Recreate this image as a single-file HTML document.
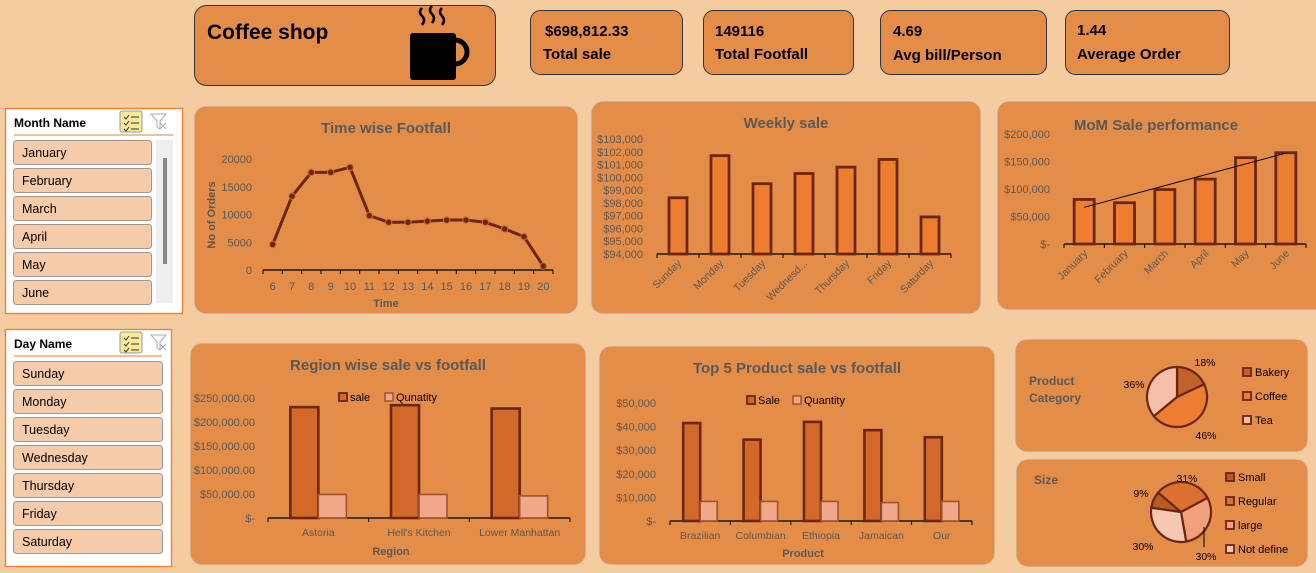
<!DOCTYPE html>
<html><head><meta charset="utf-8"><title>Coffee shop dashboard</title>
<style>
html,body{margin:0;padding:0;background:#F5CBA0;width:1316px;height:573px;overflow:hidden;font-family:"Liberation Sans",sans-serif}
svg{position:absolute;left:0;top:0}
</style></head>
<body>
<svg id="dash" width="1316" height="573" viewBox="0 0 1316 573" xmlns="http://www.w3.org/2000/svg" font-family="Liberation Sans, sans-serif">
<rect x="194.5" y="5.5" width="301" height="80" rx="12" fill="#E48D48" stroke="#2F3440"/>
<text x="207" y="39" font-size="21" font-weight="bold" fill="#000">Coffee shop</text>
<g>
<rect x="410" y="33" width="46" height="47" rx="3" fill="#000"/>
<path d="M455 40 a12 12 0 0 1 0 24" fill="none" stroke="#000" stroke-width="5"/>
<path d="M422 8 q-4 4 0 8 q4 4 0 9 M432 6 q-4 4 0 8 q4 4 0 9 M442 8 q-4 4 0 8 q4 4 0 9" fill="none" stroke="#000" stroke-width="2.5"/>
</g>
<g>
<rect x="530.5" y="10.5" width="152" height="64" rx="10" fill="#E48D48" stroke="#2F3440"/>
<text x="545" y="36" font-size="15" font-weight="bold">$698,812.33</text>
<text x="543" y="59" font-size="15" font-weight="bold">Total sale</text></g>
<g>
<rect x="703.5" y="10.5" width="150" height="64" rx="10" fill="#E48D48" stroke="#2F3440"/>
<text x="715" y="36" font-size="15" font-weight="bold">149116</text>
<text x="715" y="59" font-size="15" font-weight="bold">Total Footfall</text></g>
<g>
<rect x="880.5" y="10.5" width="166" height="64" rx="10" fill="#E48D48" stroke="#2F3440"/>
<text x="893" y="36" font-size="15" font-weight="bold">4.69</text>
<text x="893" y="60" font-size="15" font-weight="bold">Avg bill/Person</text></g>
<g>
<rect x="1065.5" y="10.5" width="164" height="64" rx="10" fill="#E48D48" stroke="#2F3440"/>
<text x="1077" y="35" font-size="15" font-weight="bold">1.44</text>
<text x="1077" y="59" font-size="15" font-weight="bold">Average Order</text></g>

<rect x="194" y="106" width="384" height="208" rx="12" fill="#E48D48" stroke="#D8CCC0"/>
<rect x="591" y="101" width="390" height="213" rx="12" fill="#E48D48" stroke="#D8CCC0"/>
<rect x="997" y="101" width="330" height="209" rx="12" fill="#E48D48" stroke="#D8CCC0"/>
<rect x="190" y="343" width="396" height="222" rx="12" fill="#E48D48" stroke="#D8CCC0"/>
<rect x="599" y="346" width="396" height="219" rx="12" fill="#E48D48" stroke="#D8CCC0"/>
<rect x="1015" y="339" width="293" height="113" rx="12" fill="#E48D48" stroke="#D8CCC0"/>
<rect x="1016" y="459" width="292" height="108" rx="12" fill="#E48D48" stroke="#D8CCC0"/>

<g fill="#595959" font-weight="bold" font-size="15" text-anchor="middle">
<text x="386" y="133">Time wise Footfall</text>
<text x="786" y="128">Weekly sale</text>
<text x="1156" y="130">MoM Sale performance</text>
<text x="388" y="370">Region wise sale vs footfall</text>
<text x="797" y="373">Top 5 Product sale vs footfall</text>
<text x="386" y="307" font-size="11">Time</text>
<text x="215" y="215" font-size="11" transform="rotate(-90 215 215)">No of Orders</text>
<text x="391" y="555" font-size="11">Region</text>
<text x="803" y="557" font-size="11">Product</text>
</g>
<g fill="#595959" font-weight="bold" font-size="12">
<text x="1029" y="385">Product</text>
<text x="1029" y="402">Category</text>
<text x="1034" y="484">Size</text>
</g>
<g id="charts"></g>
<g id="slicers"></g>
</svg>
<script>
const hours=[6,7,8,9,10,11,12,13,14,15,16,17,18,19,20];
const footfall=[4600,13300,17600,17600,18500,9800,8600,8600,8800,9000,9000,8600,7400,6000,700];
const footTicks=[0,5000,10000,15000,20000];
const weekDays=["Sunday","Monday","Tuesday","Wednesd...","Thursday","Friday","Saturday"];
const weekSales=[98400,101700,99500,100300,100800,101400,96900];
const weekTicks=[94000,95000,96000,97000,98000,99000,100000,101000,102000,103000];
const months=["January","February","March","April","May","June"];
const monthSales=[81000,75000,99000,118000,157000,166000];
const monthTicks=[0,50000,100000,150000,200000];
const regions=["Astoria","Hell's Kitchen","Lower Manhattan"];
const regionSale=[231000,235000,228000];
const regionQty=[49000,49000,46000];
const regionTicks=[0,50000,100000,150000,200000,250000];
const products=["Brazilian","Columbian","Ethiopia","Jamaican","Our"];
const productSale=[41500,34500,42000,38500,35500];
const productQty=[8300,8300,8300,7800,8300];
const productTicks=[0,10000,20000,30000,40000,50000];
const catLabels=["Bakery","Coffee","Tea"];
const catShare=[18,46,36];
const sizeLabels=["Small","Regular","large","Not define"];
const sizeShare=[9,31,30,30];
const slicerMonths=["January","February","March","April","May","June"];
const slicerDays=["Sunday","Monday","Tuesday","Wednesday","Thursday","Friday","Saturday"];

const NS="http://www.w3.org/2000/svg";
const root=document.getElementById('charts');
function mk(tag,attrs,parent,txt){const e=document.createElementNS(NS,tag);for(const k in attrs)e.setAttribute(k,attrs[k]);if(txt!==undefined)e.textContent=txt;(parent||root).appendChild(e);return e;}
function lin(d0,d1,r0,r1){return v=>r0+(v-d0)/(d1-d0)*(r1-r0);}
const money=v=>v===0?"$-":"$"+v.toLocaleString("en-US");
const money2=v=>v===0?"$-":"$"+v.toLocaleString("en-US",{minimumFractionDigits:2});
const GREY="#595959",DARK="#6B260F";

function axisX(x0,x1,y,n,name){
  const l=mk('line',{x1:x0,x2:x1,y1:y,y2:y,stroke:"#000","stroke-width":1.3});
  
  
  const step=(x1-x0)/n;
  for(let i=0;i<=n;i++){const t=mk('line',{x1:x0+i*step,x2:x0+i*step,y1:y,y2:y+4,stroke:"#000"});
    
    }
  return step;
}
function yLabels(ticks,y,x,fmt,fs){
  ticks.forEach(t=>{const e=mk('text',{x:x,y:y(t)+4,"text-anchor":"end","font-size":fs||11,fill:GREY},undefined,fmt(t));
    
    });
}

(function(){
  const x0=263,x1=553,yb=270;
  const y=lin(0,20000,yb,159);
  const step=axisX(x0,x1,yb,hours.length,'time-x-axis');
  yLabels(footTicks,y,252,v=>String(v),11);
  const cx=i=>x0+step*(i+0.5);
  const pts=footfall.map((v,i)=>cx(i)+","+y(v)).join(" ");
  const pl=mk('polyline',{points:pts,fill:"none",stroke:"#6B260F","stroke-width":3,"stroke-linejoin":"round"});
  
  
  footfall.forEach((v,i)=>{
    const c=mk('circle',{cx:cx(i),cy:y(v),r:3.2,fill:"#6B260F",stroke:"#D2692A","stroke-width":1});
    
    
    const t=mk('text',{x:cx(i),y:yb+20,"text-anchor":"middle","font-size":11,fill:GREY},undefined,String(hours[i]));
    
    
  });
})();

function simpleBars(cats,vals,ticks,dmin,dmax,x0,x1,yb,ytop,labX,bw,prefix){
  const y=lin(dmin,dmax,yb,ytop);
  const step=axisX(x0,x1,yb,cats.length,prefix+'-x-axis');
  yLabels(ticks,y,labX,money,11);
  const centers=[];
  vals.forEach((v,i)=>{
    const cx=x0+step*(i+0.5);centers.push(cx);
    const b=mk('rect',{x:cx-bw/2,y:y(v),width:bw,height:yb-y(v),fill:"#ED7D31",stroke:DARK,"stroke-width":2.8});
    
    
    const t=mk('text',{x:cx+4,y:yb+10,"text-anchor":"end","font-size":10.5,fill:GREY,transform:`rotate(-45 ${cx+4} ${yb+10})`},undefined,cats[i]);
    
    
  });
  return {y,centers};
}
simpleBars(weekDays,weekSales,weekTicks,94000,103000,657,951,254,139,643,18,'weekly');
(function(){
  const r=simpleBars(months,monthSales,monthTicks,0,200000,1064,1306,244,134,1050,20,'mom');
  const n=monthSales.length;let sx=0,sy=0,sxy=0,sxx=0;
  monthSales.forEach((v,i)=>{sx+=i;sy+=v;sxy+=i*v;sxx+=i*i;});
  const b=(n*sxy-sx*sy)/(n*sxx-sx*sx),a=(sy-b*sx)/n;
  const tl=mk('line',{x1:r.centers[0],y1:r.y(a),x2:r.centers[n-1],y2:r.y(a+b*(n-1)),stroke:"#000","stroke-width":1});
  
  
})();

function clustered(cats,s1,s2,ticks,dmax,x0,x1,yb,ytop,labX,bw,fmt,prefix,legX,legY,leg){
  const y=lin(0,dmax,yb,ytop);
  const step=axisX(x0,x1,yb,cats.length,prefix+'-x-axis');
  yLabels(ticks,y,labX,fmt,11);
  cats.forEach((c,i)=>{
    const cx=x0+step*(i+0.5);
    const a=mk('rect',{x:cx-bw,y:y(s1[i]),width:bw,height:yb-y(s1[i]),fill:"#D2692A",stroke:DARK,"stroke-width":2.6});
    
    
    const b=mk('rect',{x:cx,y:y(s2[i]),width:bw,height:yb-y(s2[i]),fill:"#F0A88A",stroke:"#A0522D","stroke-width":1.6});
    
    
    const t=mk('text',{x:cx,y:yb+18,"text-anchor":"middle","font-size":10.5,fill:GREY},undefined,c);
    
    
  });
  const r1=mk('rect',{x:legX,y:legY-8,width:8,height:8,fill:"#D2692A",stroke:DARK,"stroke-width":1.8});
  
  
  const t1=mk('text',{x:legX+11,y:legY,"font-size":11,fill:"#000"},undefined,leg[0]);
  
  
  const lx=legX+(leg[0].length*6.5)+20;
  const r2=mk('rect',{x:lx,y:legY-8,width:8,height:8,fill:"#F0A88A",stroke:"#A0522D","stroke-width":1.5});
  
  
  const t2=mk('text',{x:lx+11,y:legY,"font-size":11,fill:"#000"},undefined,leg[1]);
  
  
}
clustered(regions,regionSale,regionQty,regionTicks,250000,268,570,518,398,255,28,money2,'region',339,401,["sale","Qunatity"]);
clustered(products,productSale,productQty,productTicks,50000,670,972,521,403,656,17,money,'product',747,404,["Sale","Quantity"]);

function pie(cx,cy,r,shares,cols,labels,startDeg,labPos,legX,legY0,legStep,prefix){
  let a=startDeg*Math.PI/180;
  const P=(ang,rr)=>[cx+rr*Math.sin(ang),cy-rr*Math.cos(ang)];
  shares.forEach((s,i)=>{
    const a2=a+s/100*2*Math.PI;
    const p1=P(a,r),p2=P(a2,r);
    const d=`M${cx},${cy} L${p1[0]},${p1[1]} A${r},${r} 0 ${s>50?1:0} 1 ${p2[0]},${p2[1]} Z`;
    const e=mk('path',{d:d,fill:cols[i],stroke:DARK,"stroke-width":2.2});
    
    
    const t=mk('text',{x:labPos[i][0],y:labPos[i][1],"font-size":10.5,fill:"#000","text-anchor":"middle"},undefined,s+"%");
    
    
    const ly=legY0+i*legStep;
    const lr=mk('rect',{x:legX,y:ly-8,width:8,height:8,fill:cols[i],stroke:DARK,"stroke-width":1.8});
    
    
    const lt=mk('text',{x:legX+12,y:ly,"font-size":11,fill:"#000"},undefined,labels[i]);
    
    
    a=a2;
  });
}
pie(1177,397,30,catShare,["#C0622A","#ED7D31","#F4BFA8"],catLabels,0,[[1205,366],[1206,439],[1134,388]],1243,376,24,'category');
pie(1181,512,30,sizeShare,["#B85A24","#DB7030","#F0A07A","#F6C7B2"],sizeLabels,-82,[[1141,497],[1187,482],[1206,560],[1143,550]],1226,481,24,'size');
mk('line',{x1:1204,y1:527,x2:1204,y2:547,stroke:"#000"});

const sl=document.getElementById('slicers');
function slicer(x,y,w,h,title,items,itemW,prefix,scroll){
  const g=mk('g',{},sl);
  
  
  mk('rect',{x:x+.5,y:y+.5,width:w,height:h,fill:"#fff",stroke:"#ED7D31","stroke-width":1.3},g);
  const tt=mk('text',{x:x+9,y:y+19,"font-size":12,"font-weight":"bold",fill:"#000"},g,title);
  
  
  mk('line',{x1:x+9,x2:x+w-9,y1:y+27,y2:y+27,stroke:"#ED7D31","stroke-width":1},g);
  const ms=mk('rect',{x:x+115,y:y+3,width:22,height:21,rx:2,fill:"#FCE89A",stroke:"#999"},g);
  
  
  mk('path',{d:`M${x+119} ${y+9}l2 2 3-4 M${x+119} ${y+15}l2 2 3-4 M${x+119} ${y+21}l2 2 3-4 M${x+126} ${y+9}h8 M${x+126} ${y+15}h8 M${x+126} ${y+21}h8`,stroke:"#333",fill:"none","stroke-width":1},g);
  const cf=mk('path',{d:`M${x+146} ${y+6}h15l-6 7v8l-3-2v-6z M${x+155} ${y+15}l6 6 M${x+161} ${y+15}l-6 6`,stroke:"#aaa",fill:"none","stroke-width":1},g);
  
  
  if(scroll){
    const tr=mk('rect',{x:x+151,y:y+32,width:17,height:163,fill:"#EEEEEE"},g);
    
    
    mk('rect',{x:x+158,y:y+50,width:4,height:106,fill:"#888"},g);
  }
  items.forEach((it,i)=>{
    const iy=y+32+i*28;
    const hh=Math.min(24,y+h-4-iy);
    const r=mk('rect',{x:x+8.5,y:iy+.5,width:itemW,height:hh,rx:3,fill:"#F6CBA9",stroke:"#A09890"},g);
    
    
    const t=mk('text',{x:x+17,y:iy+17,"font-size":12.5,fill:"#000"},g,it);
    
    
  });
}
slicer(5,108,177,205,"Month Name",slicerMonths,138,'month',true);
slicer(5,329,166,237,"Day Name",slicerDays,149,'day',false);
</script>
</body></html>
